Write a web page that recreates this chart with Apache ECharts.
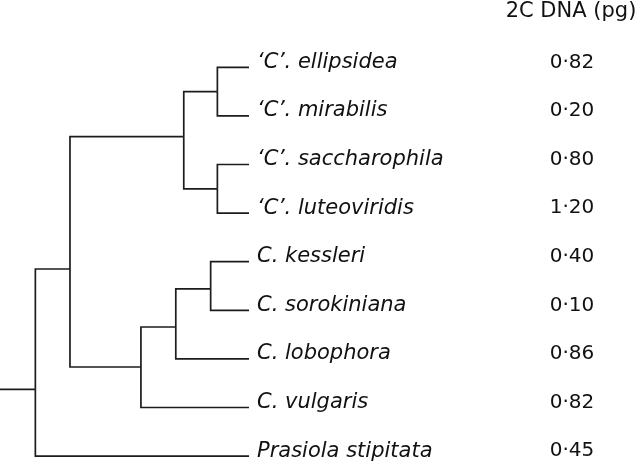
<!DOCTYPE html>
<html><head><meta charset="utf-8">
<script src="https://cdn.jsdelivr.net/npm/echarts@6/dist/echarts.min.js"></script>
<style>html,body{margin:0;padding:0;background:#fff}#c{width:640px;height:471px}</style>
</head><body><div id="c"></div>
<script>
// Leaves (top to bottom)
const leafNames = ["‘C’. ellipsidea","‘C’. mirabilis","‘C’. saccharophila","‘C’. luteoviridis","C. kessleri","C. sorokiniana","C. lobophora","C. vulgaris","Prasiola stipitata"];
const dnaValues = [0.82,0.20,0.80,1.20,0.40,0.10,0.86,0.82,0.45];
const leafParent = ["A","A","B","B","KS","KS","KSL","KSLV","ROOT"];
const leafDepth = 1.0;
// Internal nodes (depth from root stem, row position in leaf units)
const nodeIds    = ["A","B","AB","KS","KSL","KSLV","CC","ROOT"];
const nodeDepth  = [0.873,0.873,0.738,0.846,0.706,0.566,0.281,0.142];
const nodeRow    = [0.5,2.5,1.428,4.56,5.344,6.167,4.15,6.626];
const nodeParent = ["AB","AB","CC","KSL","KSLV","CC","ROOT",null];
const rootStemStart = 0;
const headerText = "2C DNA (pg)";

const idx = id => nodeIds.indexOf(id);
const edges = [];
leafNames.forEach((n,i)=>{const p=idx(leafParent[i]);edges.push([nodeDepth[p],nodeRow[p],leafDepth,i]);});
nodeIds.forEach((n,i)=>{
  if(nodeParent[i]){const p=idx(nodeParent[i]);edges.push([nodeDepth[p],nodeRow[p],nodeDepth[i],nodeRow[i]]);}
  else edges.push([rootStemStart,nodeRow[i],nodeDepth[i],nodeRow[i]]);
});
const fmt = v => v.toFixed(2).replace('.', '·');
const leafData = leafNames.map((n,i)=>[leafDepth,i,n,fmt(dnaValues[i])]);

const FONT = '"DejaVu Sans", sans-serif';
const chart = echarts.init(document.getElementById('c'), null, {renderer:'canvas'});
chart.setOption({
  animation:false,
  backgroundColor:'#fff',
  grid:{left:0,width:249,top:67.3,height:388.8},
  xAxis:{type:'value',min:0,max:1,show:false},
  yAxis:{type:'value',min:0,max:8,inverse:true,show:false},
  graphic:[{type:'text',x:571,y:12,style:{text:headerText,fill:'#111',fontSize:21,fontFamily:FONT,align:'center',verticalAlign:'middle',textAlign:'center',textVerticalAlign:'middle'}}],
  series:[
    {type:'custom',clip:false,data:edges,silent:true,
     renderItem:function(params,api){
       const p=api.coord([api.value(0),api.value(1)]);
       const m=api.coord([api.value(0),api.value(3)]);
       const c=api.coord([api.value(2),api.value(3)]);
       return {type:'polyline',shape:{points:[p,m,c]},style:{stroke:'#1c1c1c',lineWidth:1.7,fill:null}};
     }},
    {type:'custom',clip:false,data:leafData,silent:true,
     renderItem:function(params,api){
       const c=api.coord([api.value(0),api.value(1)]);
       const d=leafData[params.dataIndex];
       return {type:'group',children:[
         {type:'text',x:c[0]+8,y:c[1]-5,style:{text:d[2],fill:'#111',fontSize:21,fontStyle:'italic',fontFamily:FONT,align:'left',verticalAlign:'middle',textAlign:'left',textVerticalAlign:'middle'}},
         {type:'text',x:572,y:c[1]-5,style:{text:d[3],fill:'#111',fontSize:20,fontFamily:FONT,align:'center',verticalAlign:'middle',textAlign:'center',textVerticalAlign:'middle'}}
       ]};
     }}
  ]
});
</script></body></html>
